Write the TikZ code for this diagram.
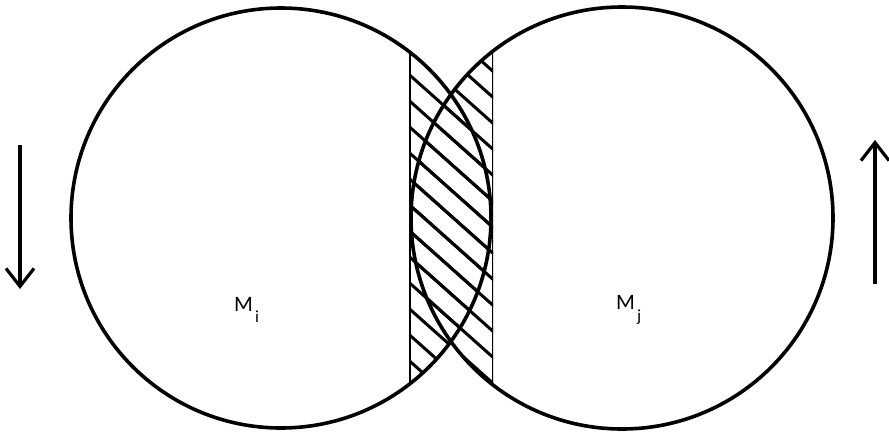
\documentclass[tikz,border=0pt]{standalone}
\usepackage{fontspec}
\setmainfont{Carlito}
\usetikzlibrary{arrows.meta}
\tikzset{
  outline/.style={draw=black, line width=3.6pt, circle, inner sep=0pt, minimum size=#1},
  hatch/.style={line width=3pt, black},
  motion/.style={line width=3.2pt, -{Straight Barb[length=18pt,width=28pt,line width=3.2pt]}},
  lbl/.style={anchor=base west, inner sep=0pt, font=\fontsize{22}{22}\selectfont},
  sub/.style={anchor=base west, inner sep=0pt, font=\fontsize{17}{17}\selectfont}
}
\begin{document}
\begin{tikzpicture}[x=1pt,y=-1pt]
\useasboundingbox (0,0) rectangle (889,432);
% hatched strip, clipped to each disc in turn (union)
\foreach \cx/\r in {281/210, 622/211}{
  \begin{scope}
    \clip (409,0) rectangle (493,432);
    \clip (\cx,218) circle (\r);
    \foreach \c in {-120,-94,...,460}{
      \draw[hatch] (395,\c) -- (505,\c+98);
    }
    \draw[hatch] (409,0) -- (409,432);
    \draw[hatch] (493,0) -- (493,432);
  \end{scope}
}
\node[outline=420pt] (Mi) at (281,218) {};
\node[outline=422pt] (Mj) at (622,218) {};
\node[lbl] (li) at (234,311) {M};
\node[sub] (si) at (255,322) {i};
\node[lbl] (lj) at (616,309) {M};
\node[sub] (sj) at (637,321) {j};
\coordinate (a1) at (20,145);
\coordinate (a2) at (20,289);
\coordinate (b1) at (875,284);
\coordinate (b2) at (875,140);
\draw[motion] (a1) -- (a2);
\draw[motion] (b1) -- (b2);
\end{tikzpicture}
\end{document}
